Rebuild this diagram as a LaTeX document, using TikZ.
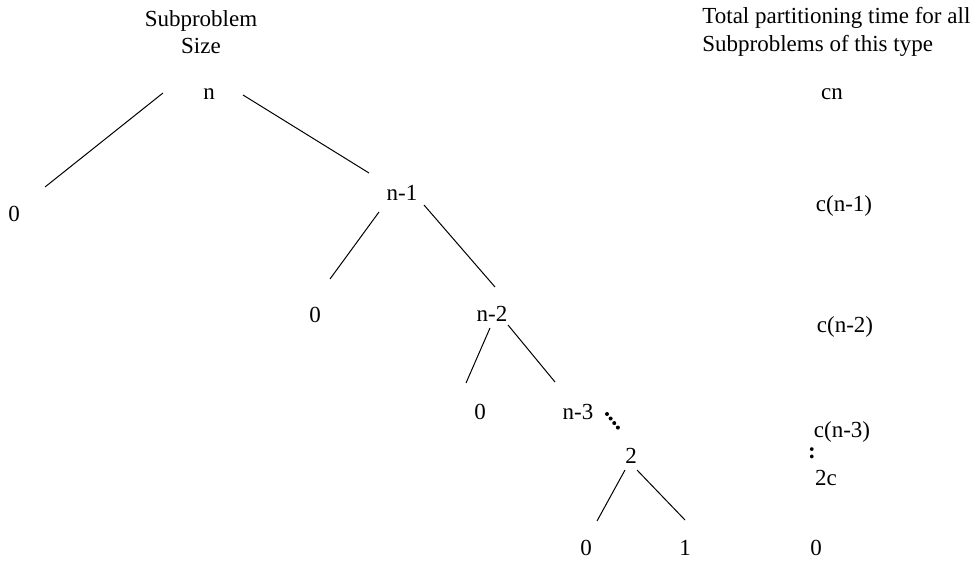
\documentclass[tikz,border=0pt]{standalone}
\usepackage{fontspec}
\setmainfont{Liberation Serif}
\usetikzlibrary{positioning}

\begin{document}
\begin{tikzpicture}[x=0.5pt,y=-0.5pt,
  lbl/.style={inner sep=0pt,font=\fontsize{11.5}{13.8}\selectfont},
  hdr/.style={lbl,align=center},
  branch/.style={line width=0.5pt},
  dots/.style={line width=2pt,line cap=round,dash pattern=on 0pt off 2.9pt}]
\useasboundingbox (0,0) rectangle (974,561);
% column headers
\node[hdr] (hsize) at (201,32) {Subproblem\\Size};
\node[hdr,align=left,anchor=west] (htime) at (702,32) {Total partitioning time for all\\Subproblems of this type};
% tree
\node[lbl] (n) at (209,94) {n};
\node[lbl] (z0) at (14,214) {0};
\node[lbl] (n1) at (402,193) {n-1};
\node[lbl] (z1) at (315,315) {0};
\node[lbl] (n2) at (492,314) {n-2};
\node[lbl] (z2) at (480,412) {0};
\node[lbl] (n3) at (578,412) {n-3};
\node[lbl] (two) at (631,456) {2};
\node[lbl] (z3) at (586,548) {0};
\node[lbl] (one) at (685,548) {1};
% line ends
\coordinate (a1) at (163,93);  \coordinate (a2) at (45,187);
\coordinate (b1) at (243,95);  \coordinate (b2) at (369,173);
\coordinate (c1) at (379,212); \coordinate (c2) at (330,279);
\coordinate (d1) at (424,205); \coordinate (d2) at (495,287);
\coordinate (e1) at (490,328); \coordinate (e2) at (466,383);
\coordinate (f1) at (508,325); \coordinate (f2) at (555,382);
\coordinate (g1) at (625,470); \coordinate (g2) at (597,521);
\coordinate (h1) at (637,470); \coordinate (h2) at (685,520);
\draw[branch] (a1) -- (a2);
\draw[branch] (b1) -- (b2);
\draw[branch] (c1) -- (c2);
\draw[branch] (d1) -- (d2);
\draw[branch] (e1) -- (e2);
\draw[branch] (f1) -- (f2);
\draw[branch] (g1) -- (g2);
\draw[branch] (h1) -- (h2);
\draw[dots] ([shift={(29,2)}]n3.center) -- ([shift={(41,17)}]n3.center);
% partitioning times
\node[lbl] (tn) at (832,94) {cn};
\node[lbl] (tn1) at (844,206) {c(n-1)};
\node[lbl] (tn2) at (845,327) {c(n-2)};
\node[lbl] (tn3) at (842,432) {c(n-3)};
\node[lbl,text height=1ex,text depth=0pt] (tdots) at (812,454) {\textbf{:}};
\node[lbl] (t2) at (826,478) {2c};
\node[lbl] (t0) at (816,548) {0};
\end{tikzpicture}
\end{document}
